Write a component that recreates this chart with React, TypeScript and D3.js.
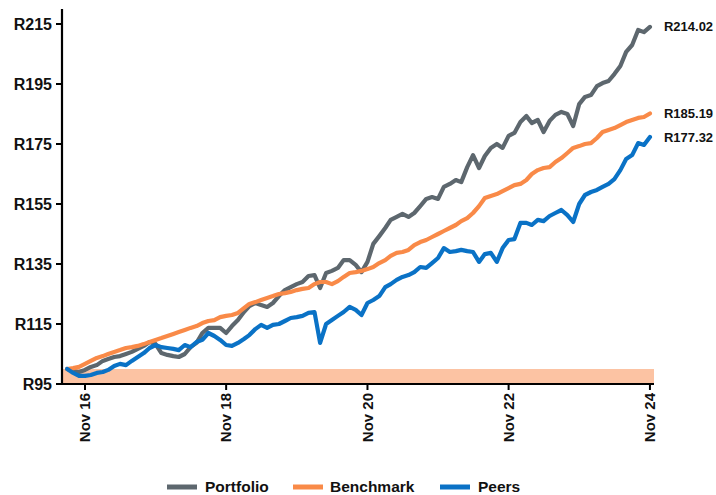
import React from "react";
import * as d3 from "d3";

const portfolio = [
  100, 99.3, 99.0, 99.7, 100.7, 101.3, 102.7, 103.3, 104.0, 104.3,
  105.0, 105.7, 106.7, 107.7, 109.0, 108.3, 105.3, 104.7, 104.3, 104.0,
  105.0, 107.3, 108.7, 112.0, 113.7, 113.7, 113.7, 112.0, 114.3, 116.3,
  119.0, 121.0, 122.0, 121.3, 120.7, 122.0, 124.3, 126.3, 127.3, 128.3,
  129.0, 131.0, 131.3, 127.0, 132.0, 132.7, 133.7, 136.3, 136.3, 134.7,
  132.3, 135.7, 141.7, 144.3, 147.0, 149.7, 150.7, 151.7, 150.7, 152.0,
  154.3, 156.7, 157.3, 156.7, 160.7, 161.7, 163.0, 162.3, 167.3, 171.3,
  167.0, 171.0, 173.7, 175.0, 173.7, 177.7, 178.7, 182.3, 184.3, 182.0,
  183.0, 179.0, 182.7, 184.7, 185.7, 185.0, 181.0, 188.3, 190.7, 191.3,
  194.3, 195.3, 196.0, 198.3, 201.0, 205.7, 208.0, 213.0, 212.3, 214.02,
];

const benchmark = [
  100, 100.3, 100.7, 101.7, 102.7, 103.7, 104.3, 105.0, 105.7, 106.3,
  107.0, 107.3, 107.7, 108.3, 109.0, 109.7, 110.3, 111.0, 111.7, 112.3,
  113.0, 113.7, 114.3, 115.3, 116.0, 116.3, 117.3, 117.7, 118.0, 118.7,
  120.3, 121.7, 122.3, 123.0, 123.7, 124.3, 125.0, 125.3, 125.7, 126.3,
  126.7, 127.0, 128.3, 129.0, 129.0, 128.3, 129.3, 130.7, 132.0, 132.3,
  132.7, 133.3, 134.0, 135.3, 136.3, 137.7, 138.7, 139.0, 139.7, 141.3,
  142.3, 143.0, 144.0, 145.0, 146.0, 147.0, 148.0, 149.3, 150.3, 152.0,
  154.3, 157.0, 157.7, 158.3, 159.3, 160.3, 161.3, 161.7, 163.0, 165.0,
  166.3, 167.0, 167.3, 169.0, 170.3, 172.0, 173.7, 174.3, 175.0, 175.3,
  177.0, 179.0, 179.7, 180.3, 181.3, 182.3, 183.0, 183.7, 184.0, 185.19,
];

const peers = [
  100, 98.7, 97.7, 97.7, 98.0, 98.7, 99.0, 99.7, 101.0, 101.7,
  101.3, 102.7, 104.0, 105.3, 107.0, 108.0, 107.3, 107.0, 106.7, 106.3,
  108.0, 107.3, 109.0, 109.7, 112.0, 111.0, 109.7, 108.0, 107.7, 108.7,
  110.0, 111.3, 113.3, 114.7, 113.7, 114.7, 115.0, 116.0, 117.0, 117.3,
  117.7, 118.7, 119.0, 108.7, 115.0, 116.3, 117.7, 119.0, 120.7, 119.7,
  118.0, 122.0, 123.0, 124.3, 127.3, 128.3, 129.7, 130.7, 131.3, 132.3,
  134.0, 133.7, 135.3, 137.0, 140.3, 139.0, 139.3, 139.7, 139.3, 139.0,
  135.7, 138.3, 138.7, 135.7, 140.3, 143.0, 143.3, 148.7, 148.7, 148.0,
  149.7, 149.3, 151.0, 152.0, 153.0, 151.3, 149.0, 155.0, 158.0, 159.0,
  159.7, 160.7, 161.7, 163.3, 166.3, 170.0, 171.3, 175.3, 174.7, 177.32,
];

const dates = d3.timeMonth.range(new Date(2016, 7, 1), new Date(2024, 11, 1));

const yTicks = [95, 115, 135, 155, 175, 195, 215];
const xTickDates = [new Date(2016, 10, 1), new Date(2018, 10, 1), new Date(2020, 10, 1), new Date(2022, 10, 1), new Date(2024, 10, 1)];
const xTickLabels = ["Nov 16", "Nov 18", "Nov 20", "Nov 22", "Nov 24"];

const seriesNames = ["Portfolio", "Benchmark", "Peers"];
const seriesColors = ["#5d676e", "#f98a48", "#0a72c6"];
const seriesData = [portfolio, benchmark, peers];
const endLabels = ["R214.02", "R185.19", "R177.32"];

const bandRange = [95, 100];

const FONT = "'Liberation Sans', Arial, sans-serif";

export default function App() {
  const W = 716;
  const H = 495;
  const x = d3.scaleTime().domain([new Date(2016, 6, 5), new Date(2024, 10, 22)]).range([62, 654]);
  const y = d3.scaleLinear().domain([95, 220]).range([384, 9]);

  const line = d3
    .line<number>()
    .x((_, i) => x(dates[i]))
    .y((d) => y(d));

  const legendItems = [
    { sx: 167, tx: 205 },
    { sx: 293, tx: 330 },
    { sx: 440, tx: 478 },
  ];

  return (
    <svg width={W} height={H} style={{ position: "absolute", left: 0, top: 0, background: "#fff" }} fontFamily={FONT}>
      <rect x={x.range()[0]} y={y(bandRange[1])} width={x.range()[1] - x.range()[0]} height={y(bandRange[0]) - y(bandRange[1])} fill="#fcc3a3" />

      {seriesData.map((s, k) => (
        <path key={k} d={line(s) || ""} fill="none" stroke={seriesColors[k]} strokeWidth={4.2} strokeLinejoin="round" strokeLinecap="round" />
      ))}

      {/* y axis */}
      <line x1={62} x2={62} y1={y(220)} y2={y(95) + 1} stroke="#000" strokeWidth={2.2} />
      {yTicks.map((t) => (
        <g key={t}>
          <line x1={56} x2={62} y1={y(t)} y2={y(t)} stroke="#000" strokeWidth={2} />
          <text x={52} y={y(t)} dy="0.35em" textAnchor="end" fontSize={16} fontWeight="bold" fill="#111">
            {"R" + t}
          </text>
        </g>
      ))}

      {/* x axis */}
      <line x1={61} x2={654} y1={384} y2={384} stroke="#000" strokeWidth={2.2} />
      {xTickDates.map((d, i) => (
        <g key={i}>
          <line x1={x(d)} x2={x(d)} y1={384} y2={390} stroke="#000" strokeWidth={2} />
          <text
            transform={`translate(${x(d)},393) rotate(-90)`}
            dy="0.35em"
            textAnchor="end"
            fontSize={15}
            fontWeight="bold"
            fill="#111"
          >
            {xTickLabels[i]}
          </text>
        </g>
      ))}

      {/* end labels */}
      {seriesData.map((s, k) => (
        <text key={k} x={x(dates[dates.length - 1]) + 14} y={y(s[s.length - 1])} dy="0.35em" fontSize={13} fontWeight="bold" fill="#111">
          {endLabels[k]}
        </text>
      ))}

      {/* legend */}
      {seriesNames.map((n, k) => (
        <g key={n}>
          <line x1={legendItems[k].sx} x2={legendItems[k].sx + 30} y1={487} y2={487} stroke={seriesColors[k]} strokeWidth={5} />
          <text x={legendItems[k].tx} y={487} dy="0.35em" fontSize={15.5} fontWeight="bold" fill="#111">
            {n}
          </text>
        </g>
      ))}
    </svg>
  );
}
